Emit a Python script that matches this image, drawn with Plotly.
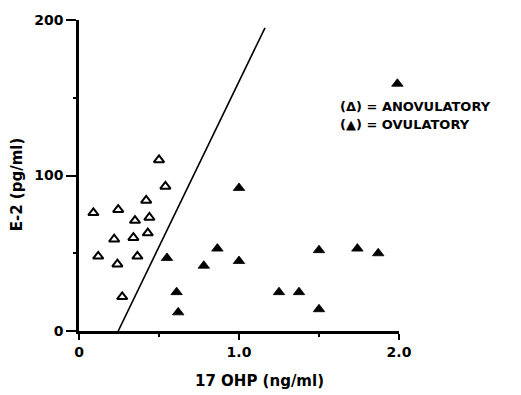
import plotly.graph_objects as go

# Anovulatory (open triangles)
anov_x = [0.09, 0.12, 0.245, 0.22, 0.24, 0.27, 0.35, 0.34, 0.365, 0.42, 0.44, 0.43, 0.50, 0.54]
anov_y = [76, 48, 78, 59, 43, 22, 71, 60, 48, 84, 73, 63, 110, 93]

# Ovulatory (filled triangles)
ov_x = [0.55, 0.61, 0.62, 0.78, 0.865, 1.0, 1.0, 1.25, 1.375, 1.5, 1.5, 1.74, 1.87, 1.99]
ov_y = [47, 25, 12, 42, 53, 92, 45, 25, 25, 14, 52, 53, 50, 159]

# Discriminant line
line_x = [0.245, 1.1625]
line_y = [0, 195]

x_tickvals = [0, 1, 2]
x_ticktext = ["0", "1.0", "2.0"]
y_tickvals = [0, 100, 200]
y_ticktext = ["0", "100", "200"]

x_title = "17 OHP (ng/ml)"
y_title = "E-2 (pg/ml)"
legend_lines = ["(Δ) = ANOVULATORY", "(▲) = OVULATORY"]

FONT = "DejaVu Sans"

fig = go.Figure()
fig.add_trace(go.Scatter(x=line_x, y=line_y, mode="lines",
                         line=dict(color="black", width=1.6), showlegend=False,
                         cliponaxis=False))
fig.add_trace(go.Scatter(x=anov_x, y=anov_y, mode="markers",
                         marker=dict(symbol="triangle-up-open", size=9, color="black",
                                     line=dict(width=2, color="black")),
                         showlegend=False, cliponaxis=False))
fig.add_trace(go.Scatter(x=ov_x, y=ov_y, mode="markers",
                         marker=dict(symbol="triangle-up", size=10, color="black",
                                     line=dict(width=0.8, color="black")),
                         showlegend=False, cliponaxis=False))

fig.update_layout(
    width=521, height=395,
    margin=dict(l=79, r=122, t=13, b=64),
    paper_bgcolor="white", plot_bgcolor="white",
    font=dict(family=FONT, size=12, color="black"),
    xaxis=dict(range=[0, 2.0], showgrid=False, zeroline=False,
               showline=True, linecolor="black", linewidth=2.5,
               ticks="outside", ticklen=6, tickwidth=2, tickcolor="black",
               tickvals=x_tickvals, ticktext=x_ticktext,
               tickfont=dict(family=FONT, size=14, color="black", weight="bold"),
               minor=dict(ticks="outside", ticklen=3, tickwidth=2, dtick=0.5, tickcolor="black")),
    yaxis=dict(range=[0, 200], showgrid=False, zeroline=False,
               showline=True, linecolor="black", linewidth=2.5,
               ticks="outside", ticklen=10, tickwidth=2, tickcolor="black",
               tickvals=y_tickvals, ticktext=y_ticktext,
               tickfont=dict(family=FONT, size=14, color="black", weight="bold"),
               minor=dict(ticks="outside", ticklen=3, tickwidth=2, dtick=50, tickcolor="black")),
)

fig.add_annotation(text=x_title, xref="paper", yref="paper",
                   x=(259 - 79) / 320, y=(331 - 382) / 318,
                   xanchor="center", yanchor="middle", showarrow=False,
                   font=dict(family=FONT, size=15, color="black", weight="bold"))
fig.add_annotation(text=y_title, xref="paper", yref="paper",
                   x=(17 - 79) / 320, y=(331 - 181) / 318, textangle=-90,
                   xanchor="center", yanchor="middle", showarrow=False,
                   font=dict(family=FONT, size=15, color="black", weight="bold"))
for i, t in enumerate(legend_lines):
    fig.add_annotation(text=t, xref="paper", yref="paper",
                       x=(338 - 79) / 320, y=(331 - (101 + 19 * i)) / 318,
                       xanchor="left", yanchor="middle", showarrow=False,
                       font=dict(family=FONT, size=13, color="black", weight="bold"))

fig.write_html("out.html")
